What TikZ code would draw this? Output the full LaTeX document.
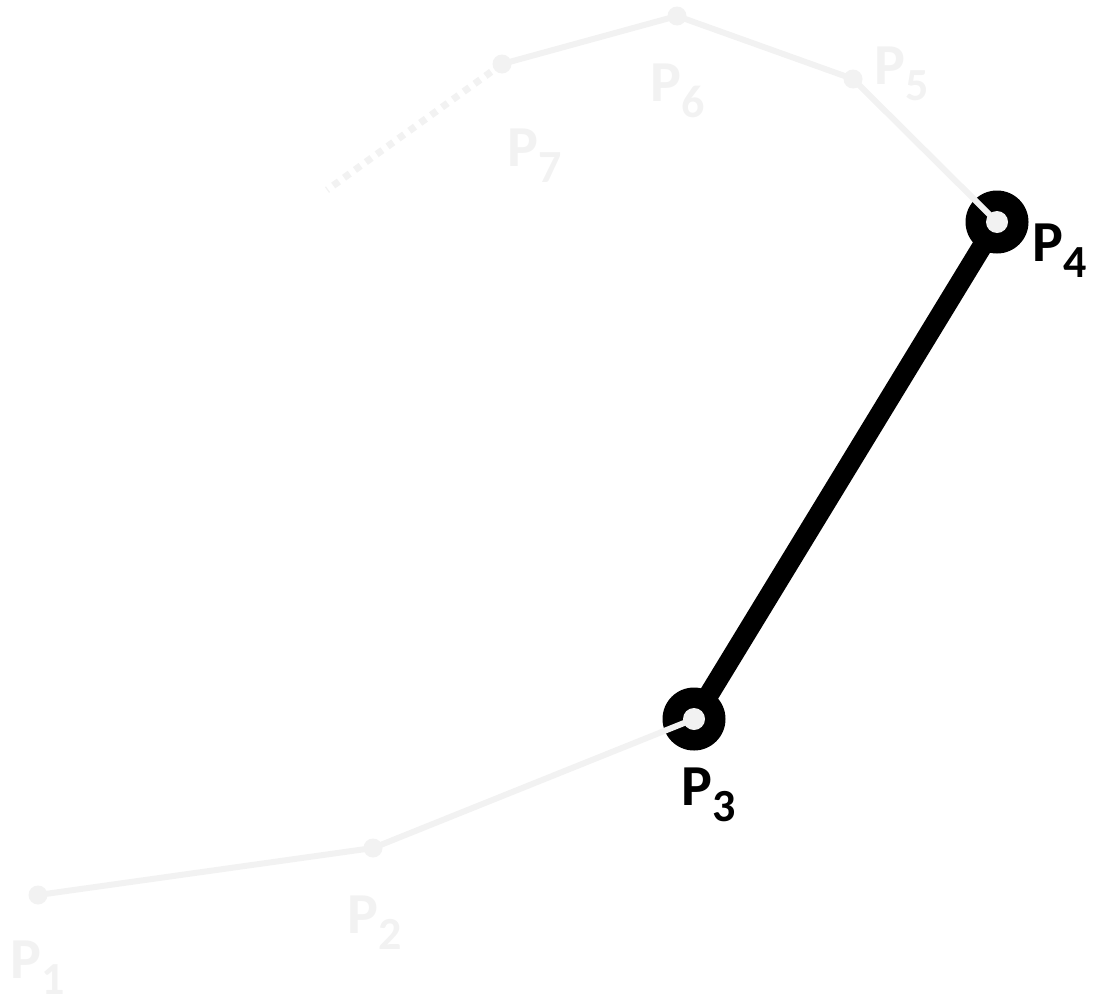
\documentclass[tikz,border=0pt]{standalone}
\usepackage{fontspec}
\setmainfont{Carlito}
\definecolor{faint}{RGB}{242,242,242}
\begin{document}
\begin{tikzpicture}[x=1pt,y=-1pt,
  faintline/.style={draw=faint,line width=6pt},
  faintdot/.style={circle,fill=faint,inner sep=0pt,minimum size=19pt},
  ring/.style={circle,fill=black,inner sep=0pt,minimum size=63pt},
  hub/.style={circle,fill=faint,inner sep=0pt,minimum size=22pt},
  lbl/.style={anchor=base west,inner sep=0pt,font=\fontsize{58}{58}\selectfont\bfseries},
  lblfaint/.style={lbl,text=faint}]
\useasboundingbox (0,0) rectangle (1094,1004);
\newcommand{\pl}[1]{P\smash{\raisebox{-16pt}{\fontsize{46}{46}\selectfont #1}}}
% points
\coordinate (p1) at (38,895);
\coordinate (p2) at (373,848);
\coordinate (p3) at (694,719);
\coordinate (p4) at (997,222);
\coordinate (p5) at (853,79);
\coordinate (p6) at (677,16);
\coordinate (p7) at (502,64);
\coordinate (p8) at (327,190);
% highlighted segment
\node[ring] (r3) at (p3) {};
\node[ring] (r4) at (p4) {};
\draw[line width=20pt] (p3) -- (p4);
% faint polyline
\draw[faintline] (p1) -- (p2) -- (p3);
\draw[faintline] (p4) -- (p5) -- (p6) -- (p7);
\draw[draw=faint,line width=7pt,dash pattern=on 7pt off 6.4pt] (p7) -- (p8);
\foreach \p in {p1,p2,p5,p6,p7} \node[faintdot] at (\p) {};
\node[hub] (h3) at (p3) {};
\node[hub] (h4) at (p4) {};
% labels
\node[lblfaint] (l1) at (10,978) {\pl{1}};
\node[lblfaint] (l2) at (347,933) {\pl{2}};
\node[lbl] (l3) at (681,805) {\pl{3}};
\node[lbl] (l4) at (1032,261) {\pl{4}};
\node[lblfaint] (l5) at (874,84) {\pl{5}};
\node[lblfaint] (l6) at (650,101) {\pl{6}};
\node[lblfaint] (l7) at (507,166) {\pl{7}};
\end{tikzpicture}
\end{document}
